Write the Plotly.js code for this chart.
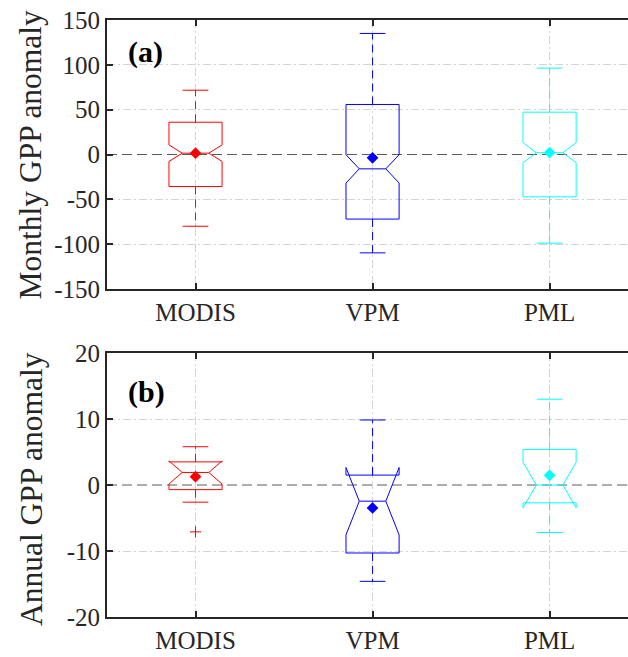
<!DOCTYPE html>
<html>
<head>
<meta charset="utf-8">
<script src="https://cdn.plot.ly/plotly-3.0.1.min.js"></script>
<style>html,body{margin:0;padding:0;background:#fff;}</style>
</head>
<body>
<div id="chart" style="width:628px;height:657px;"></div>
<script>
// ---- data ----
const models = ['MODIS', 'VPM', 'PML'];
const colors = ['#ff0000', '#0000ff', '#00ffff'];

// (a) Monthly GPP anomaly
const monthlyQ1 = [-35.7, -72, -47.2];
const monthlyMedian = [1.5, -16, 2];
const monthlyQ3 = [36, 55.8, 47.2];
const monthlyLower = [-80, -109.7, -98.9];
const monthlyUpper = [71.7, 135, 96.3];
const monthlyNotch = [9.2, 15.8, 11.1];
const monthlyMean = [1.5, -3.7, 2.2];
const monthlyOutliers = [[], [], []];

// (b) Annual GPP anomaly
const annualQ1 = [-0.7, -10.3, -2.7];
const annualMedian = [1.9, -2.45, 0];
const annualQ3 = [3.5, 1.5, 5.4];
const annualLower = [-2.6, -14.6, -7.2];
const annualUpper = [5.8, 9.85, 13];
const annualNotch = [1.75, 5.1, 3.45];
const annualMean = [1.26, -3.48, 1.46];
const annualOutliers = [[-7.1], [], []];

const monthlyTicks = [-150, -100, -50, 0, 50, 100, 150];
const monthlyTickText = ['-150', '-100', '-50', '0', '50', '100', '150'];
const annualTicks = [-20, -10, 0, 10, 20];
const annualTickText = ['-20', '-10', '0', '10', '20'];

// ---- build ----
const boxWidth = 0.3;
const capHalf = 0.0725;
const traces = [];

function addGroup(xa, ya, q1, med, q3, lo, up, notch, mean, outl) {
  models.forEach((m, i) => {
    const pos = i + 1;
    const c = colors[i];
    traces.push({
      type: 'box', xaxis: xa, yaxis: ya,
      x: [pos], q1: [q1[i]], median: [med[i]], q3: [q3[i]],
      lowerfence: [q1[i]], upperfence: [q3[i]],
      notched: true, notchspan: [notch[i]], notchwidth: 0.25,
      width: boxWidth, whiskerwidth: 0,
      line: {color: c, width: 1}, fillcolor: 'rgba(0,0,0,0)',
      boxpoints: false, hoverinfo: 'skip', showlegend: false
    });
    // dashed whiskers
    traces.push({
      type: 'scatter', mode: 'lines', xaxis: xa, yaxis: ya,
      x: [pos, pos, null, pos, pos],
      y: [q3[i], up[i], null, q1[i], lo[i]],
      line: {color: c, width: 1, dash: '8px,5px'},
      hoverinfo: 'skip', showlegend: false
    });
    // caps
    traces.push({
      type: 'scatter', mode: 'lines', xaxis: xa, yaxis: ya,
      x: [pos - capHalf, pos + capHalf, null, pos - capHalf, pos + capHalf],
      y: [up[i], up[i], null, lo[i], lo[i]],
      line: {color: c, width: 1},
      hoverinfo: 'skip', showlegend: false
    });
    // mean
    traces.push({
      type: 'scatter', mode: 'markers', xaxis: xa, yaxis: ya,
      x: [pos], y: [mean[i]],
      marker: {symbol: 'diamond', size: 9, color: c},
      hoverinfo: 'skip', showlegend: false
    });
    if (outl[i].length) {
      traces.push({
        type: 'scatter', mode: 'markers', xaxis: xa, yaxis: ya,
        x: outl[i].map(() => pos), y: outl[i],
        marker: {symbol: 'cross-thin-open', size: 8, color: c, line: {color: c, width: 1}},
        hoverinfo: 'skip', showlegend: false
      });
    }
  });
}

addGroup('x', 'y', monthlyQ1, monthlyMedian, monthlyQ3, monthlyLower, monthlyUpper, monthlyNotch, monthlyMean, monthlyOutliers);
addGroup('x2', 'y2', annualQ1, annualMedian, annualQ3, annualLower, annualUpper, annualNotch, annualMean, annualOutliers);

const dark = '#262626';
const serif = 'Liberation Serif, Times New Roman, serif';
const tickFont = {family: serif, size: 25, color: dark};
const titleFont = {family: serif, size: 31.5, color: dark};
const gridStyle = {gridcolor: '#d4d4d4', gridwidth: 1, griddash: '8px,3px,2px,3px'};

function xAxis(anchor) {
  return {
    anchor: anchor, domain: [0, 1], range: [0.5, 3.443],
    tickmode: 'array', tickvals: [1, 2, 3], ticktext: models,
    ticks: 'inside', ticklen: 6, tickwidth: 2, tickcolor: dark,
    showline: true, linewidth: 2, linecolor: dark, mirror: 'ticks',
    showgrid: true, ...gridStyle,
    zeroline: false, tickfont: tickFont, ticklabelstandoff: 0, fixedrange: true
  };
}
function yAxis(anchor, domain, range, ticks, ticktext) {
  return {
    anchor: anchor, domain: domain, range: range,
    tickmode: 'array', tickvals: ticks, ticktext: ticktext,
    ticks: 'inside', ticklen: 6, tickwidth: 2, tickcolor: dark,
    showline: true, linewidth: 2, linecolor: dark, mirror: false,
    showgrid: false,
    minor: Object.assign({tickmode: 'array', tickvals: ticks.filter(v => v !== 0), ticks: '', showgrid: true}, gridStyle),
    zeroline: false, tickfont: tickFont, ticklabelstandoff: 0, fixedrange: true
  };
}

const layout = {
  width: 628, height: 657,
  margin: {l: 107, r: 0, t: 20, b: 40, pad: 0},
  paper_bgcolor: '#ffffff', plot_bgcolor: '#ffffff',
  showlegend: false,
  xaxis: xAxis('y'),
  yaxis: yAxis('x', [0.5494, 1], [-150, 150], monthlyTicks, monthlyTickText),
  xaxis2: xAxis('y2'),
  yaxis2: yAxis('x2', [0, 0.4422], [-20, 20], annualTicks, annualTickText),
  shapes: [
    {type: 'line', xref: 'x domain', yref: 'y', x0: 0, x1: 1, y0: 0, y1: 0,
     line: {color: '#5a5a5a', width: 1, dash: '10px,5px'}, layer: 'below'},
    {type: 'line', xref: 'x2 domain', yref: 'y2', x0: 0, x1: 1, y0: 0, y1: 0,
     line: {color: '#5a5a5a', width: 1, dash: '10px,5px'}, layer: 'below'}
  ],
  annotations: [
    {text: 'Monthly GPP anomaly', xref: 'paper', yref: 'paper', x: -0.1459, y: 0.7747,
     xanchor: 'center', yanchor: 'middle', textangle: -90, showarrow: false, font: titleFont},
    {text: 'Annual GPP anomaly', xref: 'paper', yref: 'paper', x: -0.1459, y: 0.2144,
     xanchor: 'center', yanchor: 'middle', textangle: -90, showarrow: false, font: titleFont},
    {text: '<b>(a)</b>', xref: 'paper', yref: 'paper', x: 0.0365, y: 0.947,
     xanchor: 'left', yanchor: 'middle', showarrow: false,
     font: {family: serif, size: 30, color: '#000'}},
    {text: '<b>(b)</b>', xref: 'paper', yref: 'paper', x: 0.0365, y: 0.3774,
     xanchor: 'left', yanchor: 'middle', showarrow: false,
     font: {family: serif, size: 30, color: '#000'}}
  ]
};

Plotly.newPlot('chart', traces, layout, {displayModeBar: false, staticPlot: true});
</script>
</body>
</html>
